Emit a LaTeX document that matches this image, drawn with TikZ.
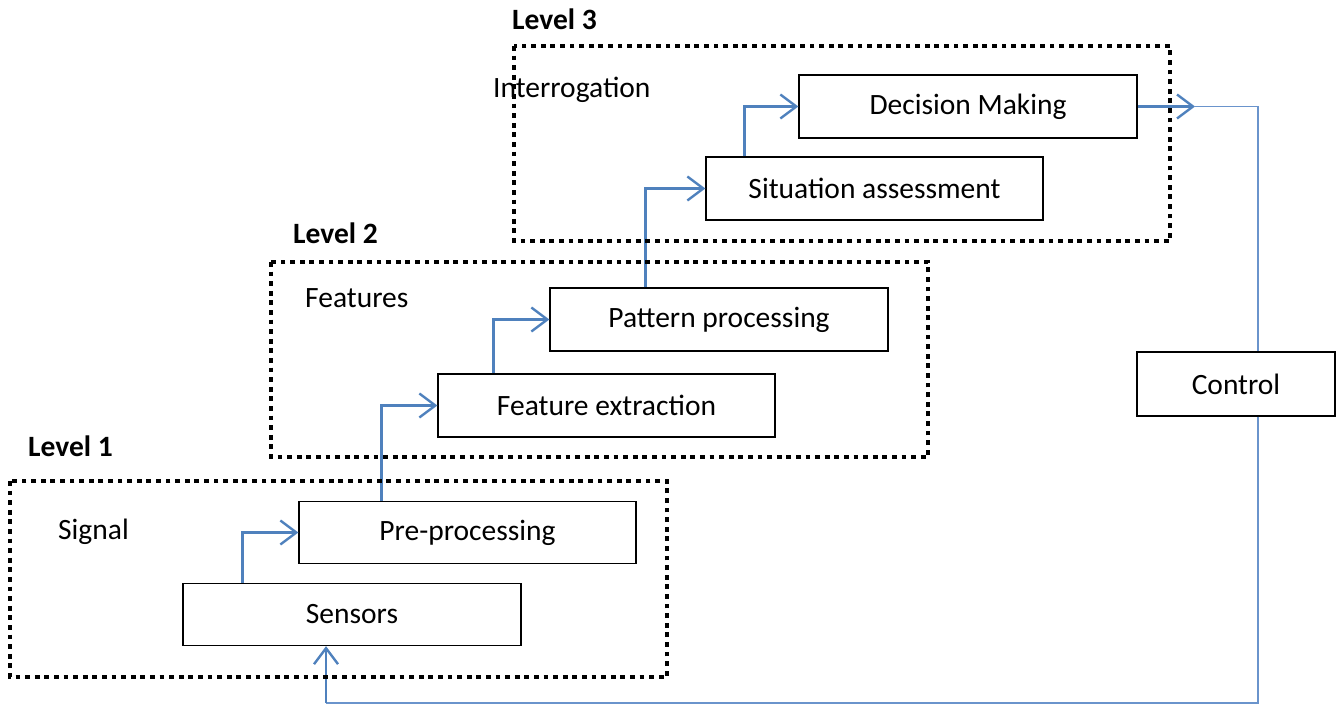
\documentclass[tikz,border=0pt]{standalone}
\usepackage{fontspec}
\setmainfont{Carlito}
\usetikzlibrary{arrows.meta,calc}

\definecolor{flowblue}{HTML}{4F81BD}
\definecolor{backblue}{HTML}{6A94CC}

\tikzset{
  stage/.style={draw=black, line width=1.3pt, fill=white,
    minimum height=62pt, inner sep=0pt, font=\fontsize{29.5}{35}\selectfont},
  lbl/.style={inner sep=0pt, anchor=base west, font=\fontsize{29.5}{35}\selectfont},
  levellbl/.style={lbl, font=\fontsize{29.5}{35}\selectfont\bfseries},
  levelbox/.style={draw=black, line width=4.8pt, dash pattern=on 4.8pt off 4.8pt},
  barb/.tip={Straight Barb[length=16pt, width=24pt, line width=2.4pt]},
  flow/.style={draw=flowblue, line width=2.4pt, -barb},
  feed/.style={draw=backblue, line width=1.9pt},
}

\begin{document}
\begin{tikzpicture}[x=1pt, y=-1pt]
\useasboundingbox (0,0) rectangle (1340,705);

% processing stages
\node[stage, minimum width=338pt] (sens) at (352,614.5) {Sensors};
\node[stage, minimum width=337pt] (pre)  at (467.5,532.5) {Pre-processing};
\node[stage, minimum width=337pt, minimum height=63pt] (fe) at (606.5,405.5) {Feature extraction};
\node[stage, minimum width=338pt, minimum height=63pt] (pp) at (719,319.5) {Pattern processing};
\node[stage, minimum width=337pt, minimum height=63pt] (sa) at (874.5,188.5) {Situation assessment};
\node[stage, minimum width=338pt, minimum height=63pt] (dm) at (968,106.5) {Decision Making};
\node[stage, minimum width=198pt, minimum height=64pt] (ctrl) at (1236,384) {Control};

% level titles and captions
\node[levellbl] (l1) at (28,456) {Level 1};
\node[levellbl] (l2) at (293,243) {Level 2};
\node[levellbl] (l3) at (512,29) {Level 3};
\node[lbl] (sig)  at (58,539) {Signal};
\node[lbl] (feat) at (305,307) {Features};
\node[lbl] (intr) at (493,97) {Interrogation};

% upward flow between stages
\draw[flow] ([xshift=60pt]sens.north west) |- (pre.west);
\draw[flow] ([xshift=83pt]pre.north west) |- (fe.west);
\draw[flow] ([xshift=56pt]fe.north west) |- (pp.west);
\draw[flow] ([xshift=96pt]pp.north west) |- (sa.west);
\draw[flow] ([xshift=39pt]sa.north west) |- (dm.west);

% output of decision making and control feedback loop
\coordinate (outtip) at (1195,106.5);
\coordinate (fbl) at (326,703);
\draw[flow] (dm.east) -- (outtip);
\draw[feed] (outtip) -| ([xshift=22pt]ctrl.north);
\draw[feed] ([xshift=22pt]ctrl.south) |- (fbl);
\draw[flow, line width=2.2pt] (fbl) -- ([xshift=-26pt]sens.south);

% level groupings
\draw[levelbox] (10,481) rectangle (667,677);
\draw[levelbox] (271,262) rectangle (928,457);
\draw[levelbox] (514,46) rectangle (1170,241);
\end{tikzpicture}
\end{document}
